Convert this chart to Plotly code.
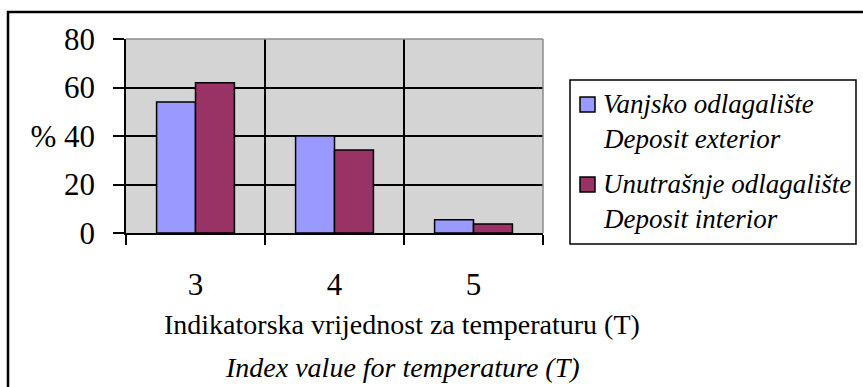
import plotly.graph_objects as go

# Index value categories and percentage shares per deposit
categories = ["3", "4", "5"]
exterior = [54.0, 40.0, 5.5]
interior = [62.0, 34.2, 3.7]
series_names = ["Vanjsko odlagalište", "Unutrašnje odlagalište"]
series_sub = ["Deposit exterior", "Deposit interior"]
y_ticks = [0, 20, 40, 60, 80]
y_ticktext = ["0", "20", "% 40", "60", "80"]
x_title = "Indikatorska vrijednost za temperaturu (T)"
x_title_en = "Index value for temperature (T)"

W, H = 863, 387
ML, MR, MT, MB = 126, 320, 39, 154
PW, PH = W - ML - MR, H - MT - MB

def px(x):
    return (x - ML) / PW

def py(y):
    return (H - MB - y) / PH

SERIF = "Liberation Serif"
BLUE = "#9999FF"
PLUM = "#993366"

fig = go.Figure()
fig.add_bar(x=categories, y=exterior, name=series_names[0],
            marker=dict(color=BLUE, line=dict(color="black", width=1.5)))
fig.add_bar(x=categories, y=interior, name=series_names[1],
            marker=dict(color=PLUM, line=dict(color="black", width=1.5)))

fig.update_layout(
    width=W, height=H,
    margin=dict(l=ML, r=MR, t=MT, b=MB, pad=0),
    paper_bgcolor="white", plot_bgcolor="#D4D4D4",
    barmode="group", bargap=0.44, bargroupgap=0,
    showlegend=False,
    font=dict(family=SERIF, color="black"),
)
fig.update_xaxes(
    type="category", tickson="boundaries",
    showline=True, linecolor="black", linewidth=1.5,
    showgrid=True, gridcolor="black", gridwidth=1.5,
    ticks="outside", ticklen=10, tickwidth=1.5, tickcolor="black",
    tickfont=dict(size=31, family=SERIF), ticklabelstandoff=23,
)
fig.update_yaxes(
    range=[0, 80], tickvals=y_ticks, ticktext=y_ticktext,
    showline=True, linecolor="black", linewidth=1.5,
    showgrid=True, gridcolor="black", gridwidth=1.5, zeroline=False,
    ticks="outside", ticklen=11, tickwidth=1.5, tickcolor="black",
    tickfont=dict(size=31, family=SERIF), ticklabelstandoff=12,
)

shapes = [
    # plot-area border on top and right
    dict(type="line", xref="paper", yref="paper", x0=0, x1=1, y0=1, y1=1,
         line=dict(color="#8C8C8C", width=1.5)),
    dict(type="line", xref="paper", yref="paper", x0=1, x1=1, y0=0, y1=1,
         line=dict(color="#8C8C8C", width=1.5)),
    # chart frame
    dict(type="rect", xref="paper", yref="paper",
         x0=px(8), x1=px(875), y0=py(12), y1=py(400),
         line=dict(color="black", width=2.5)),
    # legend box
    dict(type="rect", xref="paper", yref="paper",
         x0=px(570), x1=px(856), y0=py(80), y1=py(244),
         line=dict(color="black", width=1.5), fillcolor="white"),
]
annotations = []
legend_rows = [(BLUE, 104, 139, 97), (PLUM, 184, 219, 177)]
for i, (col, y1, y2, sy) in enumerate(legend_rows):
    shapes.append(dict(type="rect", xref="paper", yref="paper",
                       x0=px(580), x1=px(595), y0=py(sy), y1=py(sy + 15),
                       line=dict(color="black", width=1.5), fillcolor=col))
    for txt, yy in ((series_names[i], y1), (series_sub[i], y2)):
        annotations.append(dict(text=f"<i>{txt}</i>", xref="paper", yref="paper",
                                x=px(601), y=py(yy), xanchor="left", yanchor="middle",
                                showarrow=False, font=dict(size=27, family=SERIF)))

annotations.append(dict(text=x_title, xref="paper", yref="paper",
                        x=px(402), y=py(324), xanchor="center", yanchor="middle",
                        showarrow=False, font=dict(size=28, family=SERIF)))
annotations.append(dict(text=f"<i>{x_title_en}</i>", xref="paper", yref="paper",
                        x=px(402), y=py(367), xanchor="center", yanchor="middle",
                        showarrow=False, font=dict(size=28, family=SERIF)))

fig.update_layout(shapes=shapes, annotations=annotations)
fig.write_html("out.html")
